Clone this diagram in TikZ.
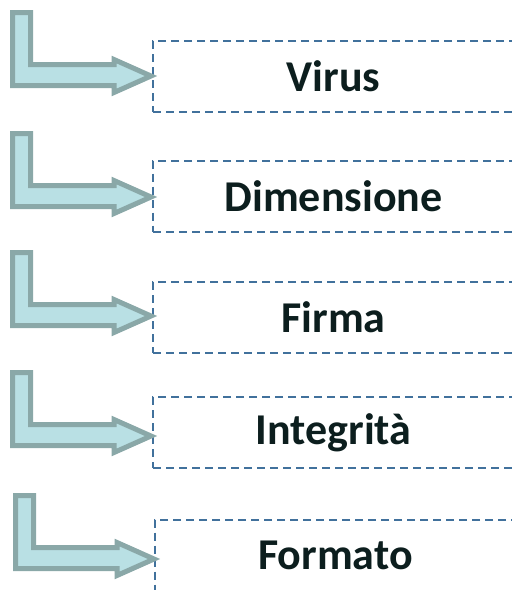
\documentclass[tikz,border=0pt]{standalone}
\usepackage{fontspec}
\setmainfont{Carlito}
\usepackage{xcolor}

\definecolor{arrowfill}{RGB}{185,224,228}
\definecolor{arrowline}{RGB}{138,168,168}
\definecolor{boxline}{RGB}{65,113,156}
\definecolor{textdark}{RGB}{12,30,30}

\tikzset{
	checkbox/.style={draw=boxline, line width=2pt, dash pattern=on 8pt off 5pt,
		minimum width=361pt, minimum height=71pt, inner sep=0pt,
		text=textdark, font=\bfseries\fontsize{44}{50}\selectfont},
	bentarrow/.style={draw=arrowline, fill=arrowfill, line width=5pt, miter limit=10}
}

\begin{document}
\begin{tikzpicture}[x=1pt,y=-1pt]
			\useasboundingbox (0,0) rectangle (512,590);
			\clip (0,0) rectangle (512,590);

			\foreach \lx/\ty/\bx/\bt/\bb/\name/\txt in {
				10/76/153/41/112/virus/Virus,
				10/197/153/160/232/dimensione/Dimensione,
				10/316/153/282/353/firma/Firma,
				10/436/153/397/468/integrita/Integrità,
				13/559/155/519/591/formato/Formato}
			{
				\node [checkbox] (\name) at ({\bx+180.5},{(\bt+\bb)/2}) {\txt};

				\draw [bentarrow] (\lx+2.5,\ty-63.5) -- (\lx+20.5,\ty-63.5)
					-- (\lx+20.5,\ty-11.5) -- (\lx+104,\ty-11.5) -- (\lx+104,\ty-16.5)
					-- (\lx+141,\ty) -- (\lx+104,\ty+16.5) -- (\lx+104,\ty+9.5)
					-- (\lx+2.5,\ty+9.5) -- cycle;
			}
		\end{tikzpicture}
\end{document}
